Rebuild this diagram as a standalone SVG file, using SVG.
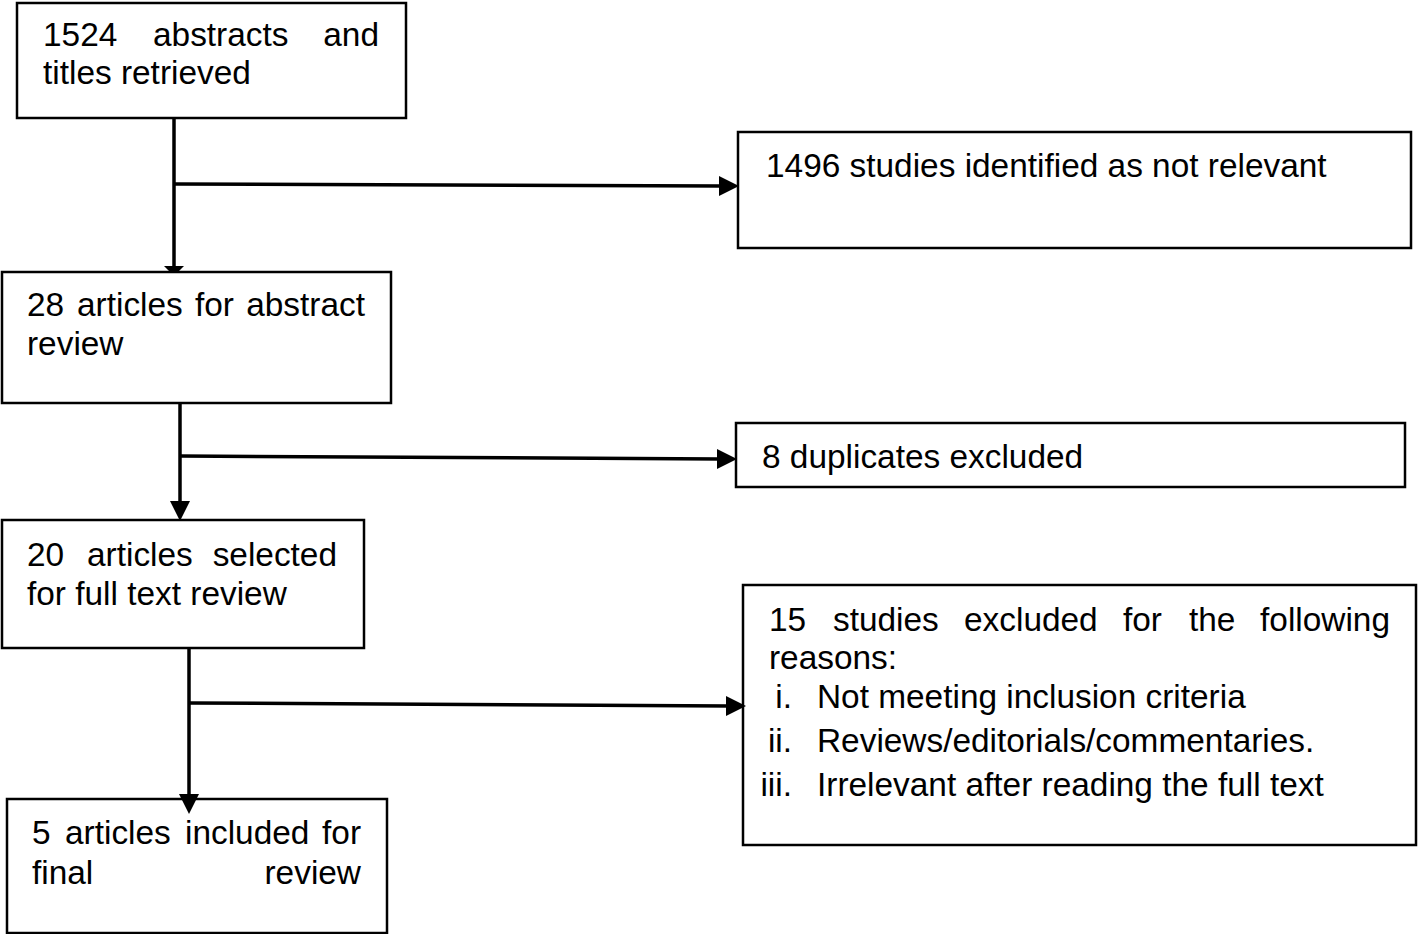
<svg xmlns="http://www.w3.org/2000/svg" width="1418" height="934" viewBox="0 0 1418 934">
<style>
.box{fill:#fff;stroke:#000;stroke-width:2.5}
.t{font-family:"Liberation Sans",Arial,sans-serif;font-size:33.4px;fill:#000}
.e{text-anchor:end}
.ln{stroke:#000;stroke-width:3.5;fill:none}
.hd{fill:#000}
</style>
<rect width="1418" height="934" fill="#fff"/>
<g id="n1524">
<rect class="box" x="17" y="3" width="389" height="115"/>
<text class="t" y="46"><tspan x="43">1524</tspan><tspan x="153">abstracts</tspan><tspan x="379" text-anchor="end">and</tspan></text>
<text class="t" x="43" y="84">titles retrieved</text>
</g>
<g id="n1496">
<rect class="box" x="738" y="132" width="673" height="116"/>
<text class="t" x="766" y="177">1496 studies identified as not relevant</text>
</g>
<g id="n28">
<rect class="box" x="2" y="272" width="389" height="131"/>
<text class="t" y="316"><tspan x="27">28</tspan><tspan x="77">articles</tspan><tspan x="195">for</tspan><tspan x="365" text-anchor="end">abstract</tspan></text>
<text class="t" x="27" y="355">review</text>
</g>
<g id="n8">
<rect class="box" x="736" y="423" width="669" height="64"/>
<text class="t" x="762" y="468">8 duplicates excluded</text>
</g>
<g id="n20">
<rect class="box" x="2" y="520" width="362" height="128"/>
<text class="t" y="566"><tspan x="27">20</tspan><tspan x="87">articles</tspan><tspan x="337" text-anchor="end">selected</tspan></text>
<text class="t" x="27" y="605">for full text review</text>
</g>
<g id="n15">
<rect class="box" x="743" y="585" width="673" height="260"/>
<text class="t" y="631"><tspan x="769">15</tspan><tspan x="833">studies</tspan><tspan x="964">excluded</tspan><tspan x="1123">for</tspan><tspan x="1189">the</tspan><tspan x="1390" text-anchor="end">following</tspan></text>
<text class="t" x="769" y="669">reasons:</text>
<text class="t e" x="792" y="708">i.</text>
<text class="t" x="817" y="708">Not meeting inclusion criteria</text>
<text class="t e" x="792" y="752">ii.</text>
<text class="t" x="817" y="752">Reviews/editorials/commentaries.</text>
<text class="t e" x="792" y="796">iii.</text>
<text class="t" x="817" y="796">Irrelevant after reading the full text</text>
</g>
<g id="n5">
<rect class="box" x="7" y="799" width="380" height="134"/>
<text class="t" y="844"><tspan x="32">5</tspan><tspan x="65">articles</tspan><tspan x="185">included</tspan><tspan x="361" text-anchor="end">for</tspan></text>
<text class="t" y="884"><tspan x="32">final</tspan><tspan x="361" text-anchor="end">review</tspan></text>
</g>
<g id="connectors">
<line class="ln" x1="174" y1="118" x2="174" y2="267"/>
<polygon class="hd" points="164,266 184,266 178,272 170,272"/>
<line class="ln" x1="175" y1="184" x2="722" y2="186"/>
<polygon class="hd" points="719,176 739,186 719,196"/>
<line class="ln" x1="180" y1="403" x2="180" y2="503"/>
<polygon class="hd" points="170,501 190,501 180,521"/>
<line class="ln" x1="180" y1="456" x2="720" y2="459"/>
<polygon class="hd" points="717,449 737,459 717,469"/>
<line class="ln" x1="189" y1="648" x2="189" y2="796"/>
<polygon class="hd" points="179,794 199,794 189,814"/>
<line class="ln" x1="189" y1="703" x2="729" y2="706"/>
<polygon class="hd" points="726,696 746,706 726,716"/>
</g>
</svg>
